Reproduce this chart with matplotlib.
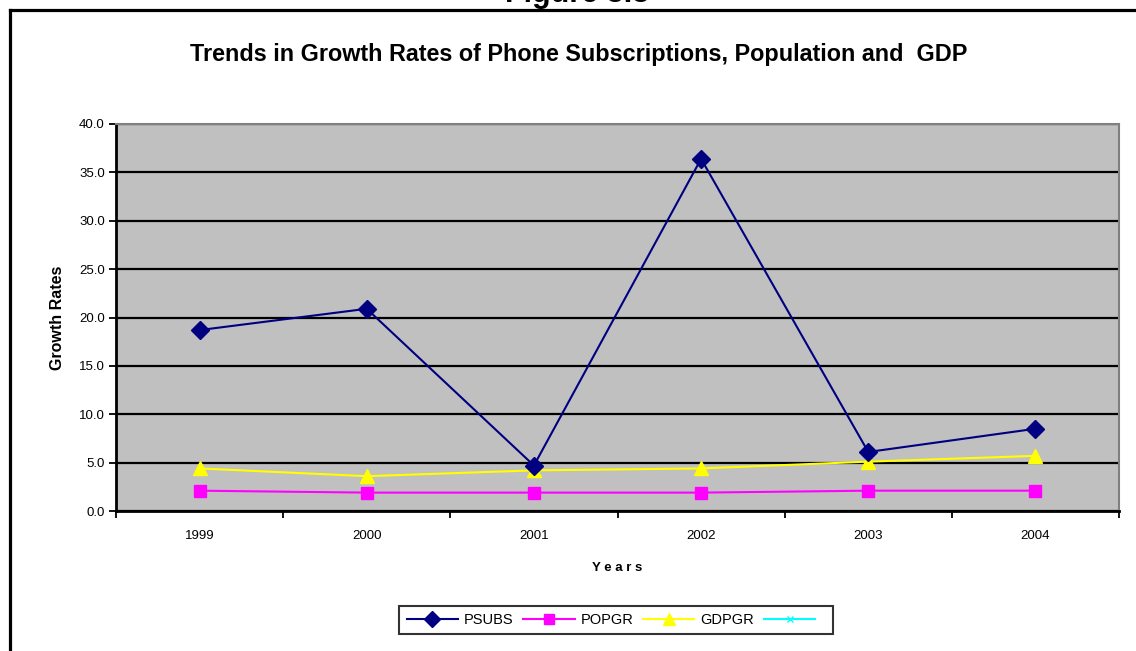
import matplotlib
matplotlib.use("Agg")
import matplotlib.pyplot as plt
from matplotlib.lines import Line2D
import numpy as np

plt.rcParams['font.family'] = ['Liberation Sans', 'DejaVu Sans']

years = ["1999", "2000", "2001", "2002", "2003", "2004"]
psubs = [18.7, 20.9, 4.7, 36.4, 6.1, 8.5]
popgr = [2.1, 1.9, 1.9, 1.9, 2.1, 2.1]
gdpgr = [4.4, 3.6, 4.2, 4.4, 5.1, 5.7]
yticks = [0, 5, 10, 15, 20, 25, 30, 35, 40]

W, H = 1136, 651
fig = plt.figure(figsize=(W / 100, H / 100), dpi=100)
fig.patch.set_facecolor('white')

# outer chart border (extends past right/bottom edges)
fig.add_artist(Line2D([9.5 / W, 1.01], [1 - 10 / H, 1 - 10 / H], transform=fig.transFigure,
                      color='black', linewidth=2.3))
fig.add_artist(Line2D([9.5 / W, 9.5 / W], [-0.01, 1 - 10 / H], transform=fig.transFigure,
                      color='black', linewidth=2.3))

fig.text(0.508, 1 - 2 / H, "Figure 3.3", ha='center', va='baseline', fontsize=22,
         fontweight='bold')
fig.text(579 / W, 1 - 54 / H, "Trends in Growth Rates of Phone Subscriptions, Population and  GDP",
         ha='center', va='center', fontsize=16.8, fontweight='bold')

left, right, top, bottom = 116, 1119, 124, 511
ax = fig.add_axes([left / W, 1 - bottom / H, (right - left) / W, (bottom - top) / H])
ax.set_facecolor('#C0C0C0')

x = np.arange(len(years))
ax.plot(x, psubs, color='#000080', marker='D', markersize=9, linewidth=1.5, label='PSUBS',
        zorder=5)
ax.plot(x, popgr, color='#FF00FF', marker='s', markersize=8.5, linewidth=1.5, label='POPGR',
        zorder=4)
ax.plot(x, gdpgr, color='#FFFF00', marker='^', markersize=10.5, linewidth=1.5, label='GDPGR',
        zorder=4)
ax.plot([], [], color='#00FFFF', marker='x', markersize=5, linewidth=1.5, label=' ')

ax.set_xlim(-0.5, len(years) - 0.5)
ax.set_ylim(0, 40)
ax.set_yticks(yticks)
ax.set_yticklabels([f"{v:.1f}" for v in yticks], fontsize=9.5)
ax.yaxis.grid(True, color='black', linewidth=1.6)
ax.set_axisbelow(True)

ax.set_xticks(np.arange(-0.5, len(years), 1.0))
ax.set_xticklabels([])
ax.set_xticks(x, minor=True)
ax.set_xticklabels(years, minor=True, fontsize=9.5)
ax.tick_params(axis='x', which='minor', length=0, pad=14)
ax.tick_params(axis='x', which='major', direction='out', length=5, width=1.3)
ax.tick_params(axis='y', direction='out', length=5, width=1.3, pad=3)

for s in ['left', 'bottom']:
    ax.spines[s].set_color('black')
    ax.spines[s].set_linewidth(2)
for s in ['top', 'right']:
    ax.spines[s].set_color('#808080')
    ax.spines[s].set_linewidth(1.5)

ax.set_xlabel("Y e a r s", fontsize=9.5, fontweight='bold', labelpad=14)
ax.set_ylabel("Growth Rates", fontsize=11.5, fontweight='bold', labelpad=10)

leg = fig.legend(loc='center', bbox_to_anchor=(616 / W, 1 - 620 / H), ncol=4, frameon=True,
                 fancybox=False, edgecolor='black', fontsize=10.5, handlelength=3.5,
                 columnspacing=0.7, handletextpad=0.4, borderpad=0.5, markerscale=0.85)
leg.get_frame().set_linewidth(1.5)

fig.savefig("out.png", dpi=100, facecolor='white')
